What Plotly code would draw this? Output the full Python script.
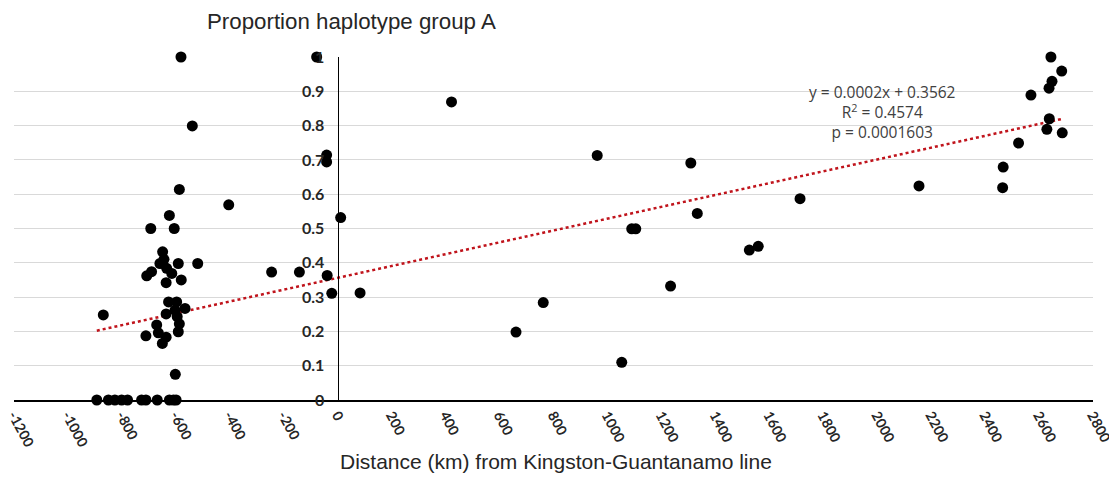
import plotly.graph_objects as go

# Data
distance_km = [
    -893, -850, -826, -801, -779, -727, -711, -669, -624, -609, -599,
    -869, -711, -708, -693, -690, -671, -665, -659, -650, -649, -644,
    -636, -636, -636, -634, -627, -624, -615, -606, -603, -602, -597,
    -595, -591, -591, -587, -587, -581, -580, -566, -539, -519, -404,
    -245, -142, -78, -41, -41, -39, -22, 11, 83,
    422, 661, 762, 962, 1053, 1090, 1105, 1234, 1309, 1333, 1526, 1559,
    1714, 2155, 2465, 2467, 2524, 2570, 2629, 2637, 2638, 2644, 2648, 2684, 2686,
]
proportion_a = [
    0, 0, 0, 0, 0, 0, 0, 0, 0, 0, 0,
    0.248, 0.187, 0.362, 0.500, 0.374, 0.219, 0.196, 0.398, 0.165, 0.432, 0.410,
    0.342, 0.251, 0.183, 0.384, 0.286, 0.538, 0.369, 0.500, 0.262, 0.075, 0.286,
    0.243, 0.398, 0.199, 0.222, 0.614, 1.0, 0.350, 0.267, 0.799, 0.398, 0.569,
    0.373, 0.373, 1.0, 0.714, 0.694, 0.363, 0.311, 0.532, 0.312,
    0.869, 0.198, 0.284, 0.713, 0.110, 0.499, 0.499, 0.332, 0.691, 0.544, 0.437, 0.448,
    0.587, 0.624, 0.619, 0.679, 0.749, 0.889, 0.789, 0.909, 0.820, 1.0, 0.929, 0.959, 0.779,
]

trend_slope = 0.0001725
trend_intercept = 0.3562

x_ticks = list(range(-1200, 2801, 200))
y_ticks = [0, 0.1, 0.2, 0.3, 0.4, 0.5, 0.6, 0.7, 0.8, 0.9, 1]
y_tick_text = ["0", "0.1", "0.2", "0.3", "0.4", "0.5", "0.6", "0.7", "0.8", "0.9", "1"]

equation_lines = ["y = 0.0002x + 0.3562", "R<sup>2</sup> = 0.4574", "p = 0.0001603"]

x_min, x_max = -1200, 2800

trend_x = [min(distance_km), max(distance_km)]
trend_y = [trend_slope * v + trend_intercept for v in trend_x]

fig = go.Figure()
fig.add_trace(go.Scatter(
    x=trend_x, y=trend_y, mode="lines",
    line=dict(color="#c0141c", width=2.5, dash="dot"),
    hoverinfo="skip", showlegend=False,
))
fig.add_trace(go.Scatter(
    x=distance_km, y=proportion_a, mode="markers",
    marker=dict(color="black", size=11, line=dict(width=0)),
    cliponaxis=False, showlegend=False,
))

# the page body adds an 8px offset, so the figure is sized to fit the window
fig.update_layout(
    width=1109, height=473,
    margin=dict(l=6, r=24, t=49, b=81),
    paper_bgcolor="white", plot_bgcolor="white",
    xaxis=dict(
        range=[x_min, x_max], tickmode="array", tickvals=x_ticks,
        ticktext=[str(v) for v in x_ticks], tickangle=62,
        tickfont=dict(family="Lato", size=14, color="#262626", weight="bold"),
        showgrid=False, zeroline=False, automargin=False,
        showline=True, linecolor="black", linewidth=1.5,
        ticks="", ticklabeloverflow="allow",
    ),
    yaxis=dict(
        range=[0, 1], tickmode="array", tickvals=y_ticks, ticktext=y_tick_text,
        tickfont=dict(family="Lato", size=16, color="#262626", weight="bold"),
        showgrid=True, gridcolor="#d9d9d9", gridwidth=1.2, automargin=False,
        zeroline=False, showline=True, linecolor="black", linewidth=1.2,
        anchor="free", position=(0 - x_min) / (x_max - x_min),
        ticks="", ticklabelstandoff=10,
    ),
    annotations=[
        dict(text="Proportion haplotype group A", xref="paper", yref="paper",
             x=(351 - 14) / 1079, y=1 + (57 - 21) / 343, xanchor="center", yanchor="middle",
             showarrow=False, font=dict(family="Liberation Sans", size=22.3, color="#262626")),
        dict(text="<br>".join(equation_lines), xref="paper", yref="paper",
             x=(882 - 14) / 1079, y=(400 - 112) / 343, xanchor="center", yanchor="middle",
             showarrow=False, align="center",
             font=dict(family="Open Sans", size=15.5, color="#404040")),
        dict(text="Distance (km) from Kingston-Guantanamo line", xref="paper", yref="paper",
             x=(556 - 14) / 1079, y=-(462 - 400) / 343, xanchor="center", yanchor="middle",
             showarrow=False, font=dict(family="Liberation Sans", size=21, color="#262626")),
    ],
)

fig.write_html("out.html")
